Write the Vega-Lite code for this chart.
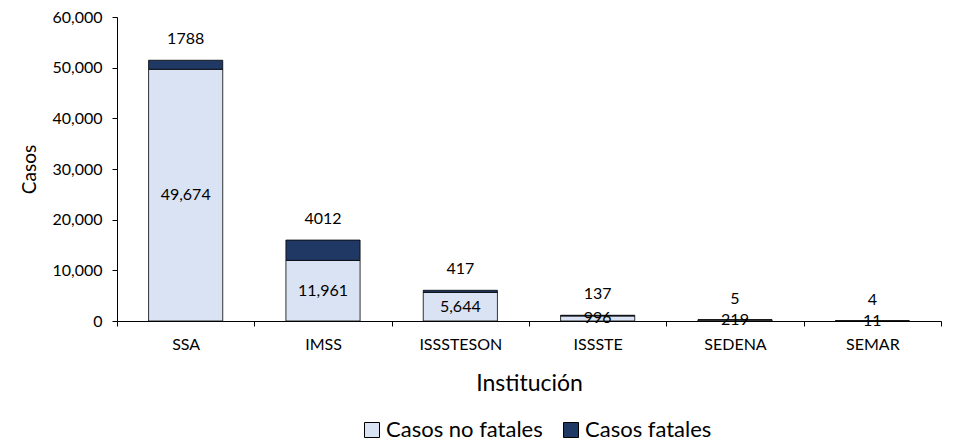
{
  "$schema": "https://vega.github.io/schema/vega-lite/v6.json",
  "width": 824,
  "height": 304,
  "autosize": "none",
  "padding": {"left": 117, "top": 17, "right": 12, "bottom": 122},
  "config": {
    "font": "Lato",
    "view": {"stroke": null},
    "axis": {
      "domainColor": "black",
      "tickColor": "black",
      "labelColor": "black",
      "titleColor": "black",
      "tickSize": 5,
      "labelFontSize": 16,
      "titleFontWeight": "normal",
      "grid": false
    },
    "text": {"fontSize": 16, "color": "black"}
  },
  "data": {
    "values": [
      {"institucion": "SSA", "tipo": "Casos no fatales", "orden": 1, "casos": 49674},
      {"institucion": "SSA", "tipo": "Casos fatales", "orden": 2, "casos": 1788},
      {"institucion": "IMSS", "tipo": "Casos no fatales", "orden": 1, "casos": 11961},
      {"institucion": "IMSS", "tipo": "Casos fatales", "orden": 2, "casos": 4012},
      {"institucion": "ISSSTESON", "tipo": "Casos no fatales", "orden": 1, "casos": 5644},
      {"institucion": "ISSSTESON", "tipo": "Casos fatales", "orden": 2, "casos": 417},
      {"institucion": "ISSSTE", "tipo": "Casos no fatales", "orden": 1, "casos": 996},
      {"institucion": "ISSSTE", "tipo": "Casos fatales", "orden": 2, "casos": 137},
      {"institucion": "SEDENA", "tipo": "Casos no fatales", "orden": 1, "casos": 219},
      {"institucion": "SEDENA", "tipo": "Casos fatales", "orden": 2, "casos": 5},
      {"institucion": "SEMAR", "tipo": "Casos no fatales", "orden": 1, "casos": 11},
      {"institucion": "SEMAR", "tipo": "Casos fatales", "orden": 2, "casos": 4}
    ]
  },
  "encoding": {
    "x": {
      "field": "institucion",
      "type": "nominal",
      "sort": ["SSA", "IMSS", "ISSSTESON", "ISSSTE", "SEDENA", "SEMAR"],
      "title": "Institución",
      "scale": {"paddingInner": 0, "paddingOuter": 0},
      "axis": {
        "labelAngle": 0,
        "tickBand": "extent",
        "labelPadding": 10,
        "titleFontSize": 23,
        "titleX": 412,
        "titleY": 62,
        "titleBaseline": "middle",
        "titleAlign": "center"
      }
    }
  },
  "layer": [
    {
      "mark": {"type": "bar", "width": {"band": 0.54}, "stroke": "black", "strokeWidth": 0.8},
      "encoding": {
        "y": {
          "field": "casos",
          "type": "quantitative",
          "stack": "zero",
          "title": "Casos",
          "scale": {"domain": [0, 60000], "nice": false},
          "axis": {
            "values": [0, 10000, 20000, 30000, 40000, 50000, 60000],
            "format": ",.0f",
            "labelPadding": 10,
            "titleFontSize": 19,
            "titleX": -88,
            "titleY": 152,
            "titleAngle": -90,
            "titleAlign": "center",
            "titleBaseline": "middle"
          }
        },
        "color": {
          "field": "tipo",
          "type": "nominal",
          "scale": {"domain": ["Casos no fatales", "Casos fatales"], "range": ["#DAE3F3", "#203864"]},
          "legend": {
            "title": null,
            "orient": "none",
            "direction": "horizontal",
            "legendX": 244,
            "legendY": 402,
            "symbolType": "square",
            "symbolSize": 225,
            "symbolStrokeColor": "black",
            "symbolStrokeWidth": 1,
            "labelFontSize": 22,
            "labelColor": "black",
            "labelOffset": 3,
            "columnPadding": 17
          }
        },
        "order": {"field": "orden", "type": "quantitative"}
      }
    },
    {
      "transform": [{"filter": "datum.tipo == 'Casos no fatales'"}],
      "mark": {"type": "text", "baseline": "middle"},
      "encoding": {
        "y": {"field": "casos", "type": "quantitative", "scale": {"domain": [0, 120000], "nice": false}, "axis": null},
        "text": {"field": "casos", "type": "quantitative", "format": ",.0f"}
      }
    },
    {
      "transform": [
        {"joinaggregate": [{"op": "sum", "field": "casos", "as": "total"}], "groupby": ["institucion"]},
        {"filter": "datum.tipo == 'Casos fatales'"}
      ],
      "mark": {"type": "text", "baseline": "middle", "dy": -21},
      "encoding": {
        "y": {"field": "total", "type": "quantitative", "scale": {"domain": [0, 60000], "nice": false}, "axis": null},
        "text": {"field": "casos", "type": "quantitative", "format": "d"}
      }
    }
  ],
  "resolve": {"scale": {"y": "independent"}}
}
